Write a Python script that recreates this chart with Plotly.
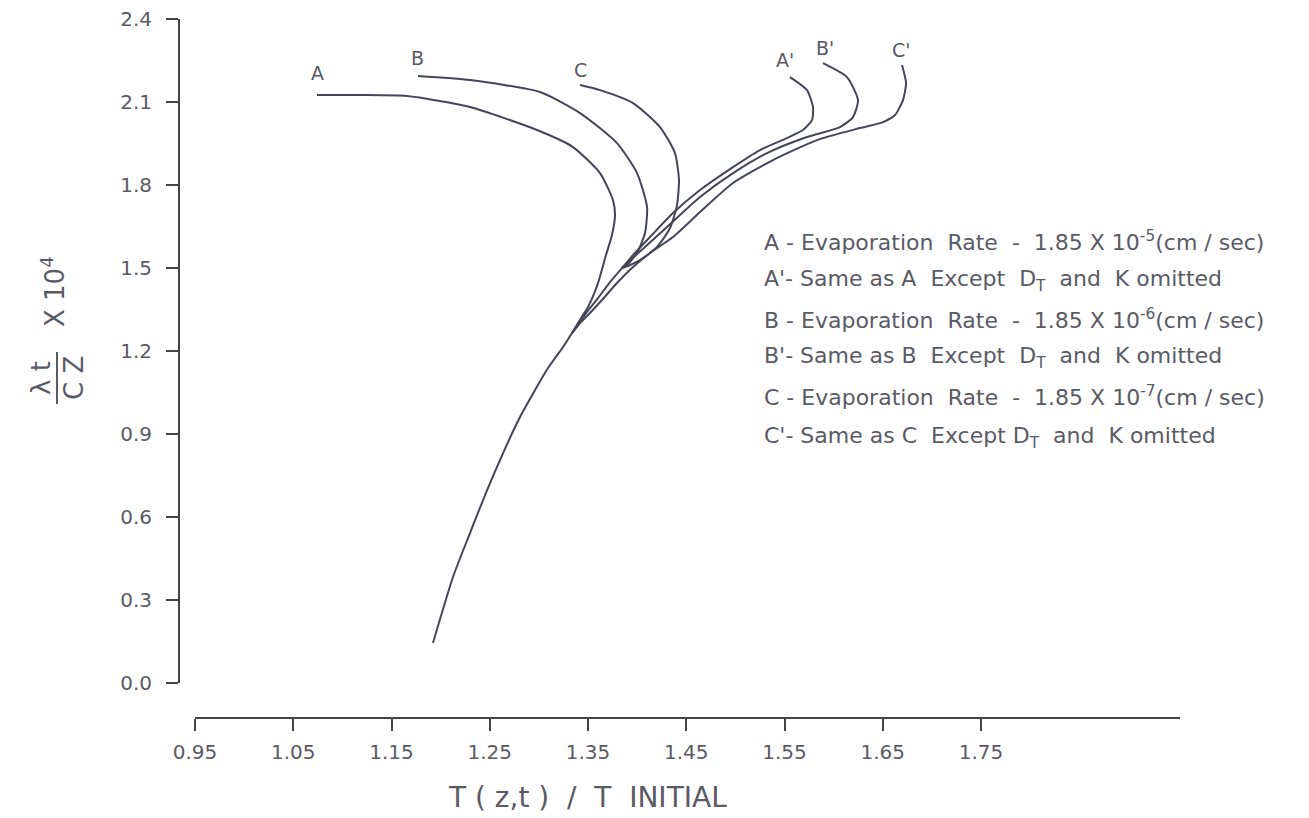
import plotly.graph_objects as go

W, H = 1309, 818

# ---------------- data ----------------
# shared lower trunk (from merge point down to the lowest point)
trunk_x = [1.3337, 1.3246, 1.3093, 1.2808, 1.2503, 1.2299, 1.2126, 1.1922]
trunk_y = [1.2649, 1.2143, 1.1384, 0.9613, 0.7228, 0.5421, 0.3831, 0.1446]

# segment shared by B, C, A', B' (from their junction down to the trunk)
shared_x = [1.3846, 1.3724, 1.3602, 1.3480, 1.3398, 1.3337]
shared_y = [1.4998, 1.4492, 1.3914, 1.3372, 1.2938, 1.2649]

a_x = [1.0742, 1.1179, 1.1658, 1.2299, 1.2981, 1.3347, 1.3622, 1.3754, 1.3775,
       1.3744, 1.3683, 1.3602, 1.3500, 1.3398, 1.3337]
a_y = [2.1251, 2.1251, 2.1214, 2.0817, 1.9986, 1.9371, 1.8431, 1.7456, 1.6913,
       1.6191, 1.5468, 1.4456, 1.3589, 1.3011, 1.2649]

b_x = [1.1770, 1.2299, 1.3011, 1.3419, 1.3795, 1.3999, 1.4101, 1.4080, 1.3999,
       1.3897, 1.3846]
b_y = [2.1937, 2.1792, 2.1359, 2.0600, 1.9516, 1.8431, 1.7203, 1.6263, 1.5540,
       1.5107, 1.4998]

c_x = [1.3419, 1.3622, 1.3958, 1.4233, 1.4385, 1.4426, 1.4406, 1.4335, 1.4202,
       1.4029, 1.3877, 1.3846]
c_y = [2.1612, 2.1431, 2.0961, 2.0094, 1.9154, 1.8179, 1.7275, 1.6444, 1.5757,
       1.5287, 1.5034, 1.4998]

ap_x = [1.5556, 1.5729, 1.5790, 1.5780, 1.5688, 1.5525, 1.5251, 1.4976, 1.4640,
        1.4365, 1.4131, 1.3958, 1.3846]
ap_y = [2.1901, 2.1431, 2.0817, 2.0347, 1.9986, 1.9696, 1.9263, 1.8648, 1.7817,
        1.6986, 1.6119, 1.5468, 1.4998]

bp_x = [1.5892, 1.6136, 1.6248, 1.6197, 1.6065, 1.5729, 1.5322, 1.4976, 1.4640,
        1.4304, 1.4080, 1.3907, 1.3846]
bp_y = [2.2407, 2.1901, 2.1070, 2.0455, 2.0094, 1.9733, 1.9154, 1.8431, 1.7564,
        1.6480, 1.5757, 1.5215, 1.4998]

cp_x = [1.6696, 1.6737, 1.6706, 1.6625, 1.6503, 1.6268, 1.5831, 1.5383, 1.4976,
        1.4640, 1.4365, 1.4131, 1.3958, 1.3795, 1.3642, 1.3520, 1.3419, 1.3337]
cp_y = [2.2335, 2.1684, 2.1070, 2.0528, 2.0275, 2.0058, 1.9624, 1.8901, 1.8070,
        1.7022, 1.6119, 1.5540, 1.5034, 1.4456, 1.3842, 1.3372, 1.3011, 1.2649]

curve_labels = ["A", "B", "C", "A'", "B'", "C'"]
label_x = [1.0742, 1.1760, 1.3419, 1.5505, 1.5912, 1.6686]
label_y = [2.2045, 2.2587, 2.2154, 2.2515, 2.2949, 2.2877]

x_tickvals = [0.95, 1.05, 1.15, 1.25, 1.35, 1.45, 1.55, 1.65, 1.75]
x_ticktext = ["0.95", "1.05", "1.15", "1.25", "1.35", "1.45", "1.55", "1.65", "1.75"]
y_tickvals = [0.0, 0.3, 0.6, 0.9, 1.2, 1.5, 1.8, 2.1, 2.4]
y_ticktext = ["0.0", "0.3", "0.6", "0.9", "1.2", "1.5", "1.8", "2.1", "2.4"]

legend_lines = [
    "A - Evaporation  Rate  -  1.85 X 10<sup>-5</sup>(cm / sec)",
    "A'- Same as A  Except  D<sub>T</sub>  and  K omitted",
    "B - Evaporation  Rate  -  1.85 X 10<sup>-6</sup>(cm / sec)",
    "B'- Same as B  Except  D<sub>T</sub>  and  K omitted",
    "C - Evaporation  Rate  -  1.85 X 10<sup>-7</sup>(cm / sec)",
    "C'- Same as C  Except D<sub>T</sub>  and  K omitted",
]

# ---------------- styling ----------------
LINE_C = "#45455a"
TEXT_C = "#5a5a64"
FONT = "DejaVu Sans"


def pxx(p):
    return p / W


def pxy(p):
    return 1 - p / H


fig = go.Figure()
line = dict(color=LINE_C, width=2, shape="spline", smoothing=0.6)
for xs, ys in [(trunk_x, trunk_y), (shared_x, shared_y), (a_x, a_y), (b_x, b_y),
               (c_x, c_y), (ap_x, ap_y), (bp_x, bp_y), (cp_x, cp_y)]:
    fig.add_trace(go.Scatter(x=xs, y=ys, mode="lines", line=line,
                             hoverinfo="skip", showlegend=False))

annotations = []
for t, lx, ly in zip(curve_labels, label_x, label_y):
    annotations.append(dict(x=lx, y=ly, xref="x", yref="y", text=t, showarrow=False,
                            xanchor="center", yanchor="middle",
                            font=dict(size=19, color=TEXT_C, family=FONT)))

legend_y_px = [241, 280, 319, 357, 396, 437]
for t, yp in zip(legend_lines, legend_y_px):
    annotations.append(dict(x=pxx(762), y=pxy(yp), xref="paper", yref="paper",
                            xanchor="left", yanchor="middle", text=t, showarrow=False,
                            font=dict(size=22, color=TEXT_C, family=FONT)))

# x axis title
annotations.append(dict(x=pxx(587), y=pxy(797), xref="paper", yref="paper",
                        xanchor="center", yanchor="middle",
                        text="T ( z,t )  /  T  INITIAL", showarrow=False,
                        font=dict(size=28, color=TEXT_C, family=FONT)))
# y axis title (rotated fraction)
annotations.append(dict(x=pxx(41), y=pxy(378), xref="paper", yref="paper",
                        xanchor="center", yanchor="middle",
                        text="λ t", textangle=-90, showarrow=False,
                        font=dict(size=26, color=TEXT_C, family=FONT)))
annotations.append(dict(x=pxx(74), y=pxy(378), xref="paper", yref="paper",
                        xanchor="center", yanchor="middle",
                        text="C Z", textangle=-90, showarrow=False,
                        font=dict(size=26, color=TEXT_C, family=FONT)))
annotations.append(dict(x=pxx(53), y=pxy(292), xref="paper", yref="paper",
                        xanchor="center", yanchor="middle",
                        text="X 10<sup>4</sup>", textangle=-90, showarrow=False,
                        font=dict(size=26, color=TEXT_C, family=FONT)))

shapes = [dict(type="line", xref="paper", yref="paper",
               x0=pxx(57), x1=pxx(57), y0=pxy(352), y1=pxy(404),
               line=dict(color=TEXT_C, width=2))]

fig.update_layout(
    width=W, height=H,
    margin=dict(l=0, r=0, t=0, b=0),
    paper_bgcolor="white", plot_bgcolor="white",
    font=dict(family=FONT, color=TEXT_C, size=18),
    annotations=annotations,
    shapes=shapes,
    xaxis=dict(
        range=[0.95, 0.95 + (1180 - 195) / 982.5],
        domain=[pxx(195), pxx(1180)],
        anchor="free", position=pxy(718),
        showline=True, linecolor="#444", linewidth=2,
        ticks="outside", ticklen=12, tickwidth=1.5, tickcolor="#444",
        tickvals=x_tickvals, ticktext=x_ticktext,
        tickfont=dict(size=20, color=TEXT_C, family=FONT),
        ticklabelstandoff=4,
        showgrid=False, zeroline=False, automargin=False,
    ),
    yaxis=dict(
        range=[0, 2.4],
        domain=[pxy(683), pxy(19)],
        anchor="free", position=pxx(179),
        showline=True, linecolor="#444", linewidth=2,
        ticks="outside", ticklen=12, tickwidth=1.5, tickcolor="#444",
        tickvals=y_tickvals, ticktext=y_ticktext,
        tickfont=dict(size=20, color=TEXT_C, family=FONT),
        ticklabelstandoff=10,
        showgrid=False, zeroline=False, automargin=False,
    ),
)

fig.write_html("out.html")
